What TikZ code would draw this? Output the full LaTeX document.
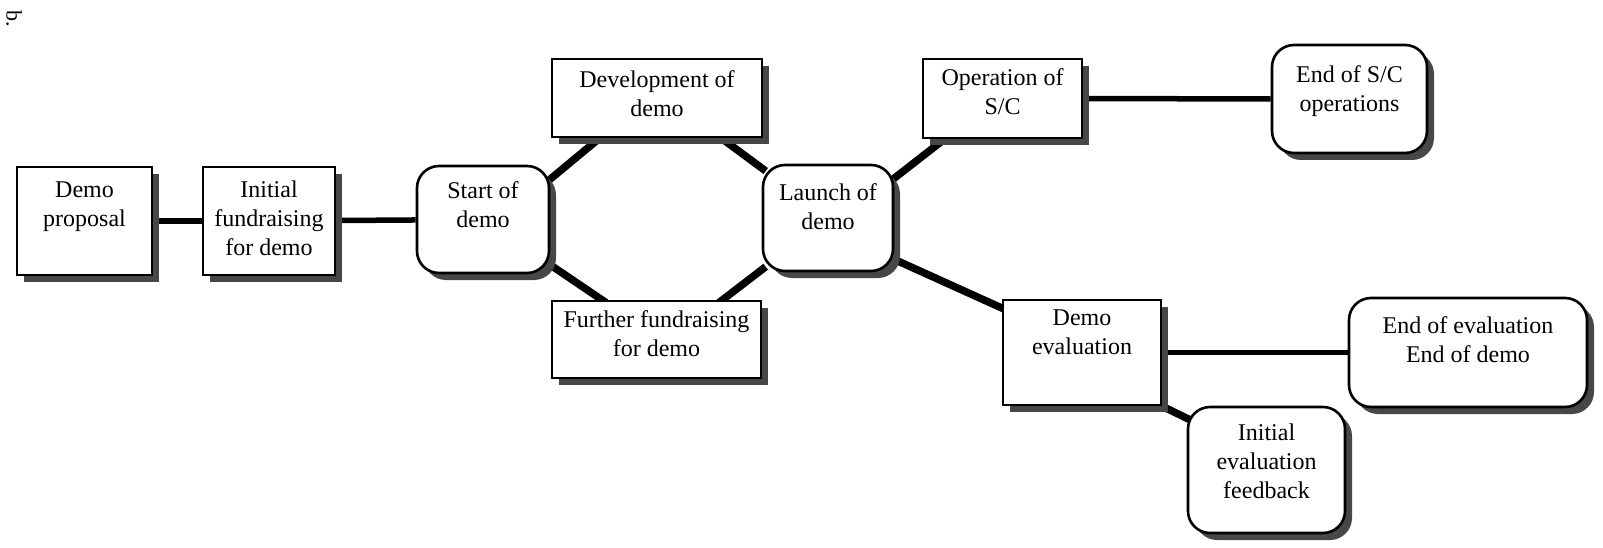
\documentclass[tikz,border=0pt]{standalone}
\usepackage{fontspec}
\setmainfont{Liberation Serif}
\usetikzlibrary{shadows,backgrounds}
\newcommand{\boxtxt}[4]{\parbox[c][#2][t]{#1}{\centering\rule{0pt}{#3}#4}}
\begin{document}
\begin{tikzpicture}[x=1pt,y=-1pt,
  font=\fontsize{24}{29}\selectfont,
  sq/.style={draw, line width=2.6pt, fill=white, inner sep=0pt,
    drop shadow={shadow xshift=7pt, shadow yshift=-7pt, fill=black!72, opacity=1}},
  rd/.style={sq, rounded corners=22pt},
  link/.style={line width=5.5pt},
  dlink/.style={line width=7.5pt, shorten <=-5pt, shorten >=-5pt}]
\useasboundingbox (0,0) rectangle (1603,548);

\node[rotate=-90, inner sep=0pt, font=\fontsize{22}{22}\selectfont] (lbl) at (14,19) {b.};

\node[sq] (dp)  at (84.5,221)   {\boxtxt{135pt}{108pt}{30.5pt}{Demo\\proposal}};
\node[sq] (inf) at (269,221)    {\boxtxt{132pt}{108pt}{30.5pt}{Initial\\fundraising\\for demo}};
\node[rd] (sod) at (483,219.5)  {\boxtxt{132pt}{107pt}{32.5pt}{Start of\\demo}};
\node[sq] (dev) at (657,98)     {\boxtxt{210pt}{78pt}{28.5pt}{Development of\\demo}};
\node[sq] (fur) at (656.5,339.5){\boxtxt{209pt}{77pt}{26.5pt}{Further fundraising\\for demo}};
\node[rd] (lod) at (828,218)    {\boxtxt{130pt}{106pt}{35.5pt}{Launch of\\demo}};
\node[sq] (op)  at (1002.5,98.5){\boxtxt{159pt}{79pt}{26.5pt}{Operation of\\S/C}};
\node[rd] (eos) at (1349.5,99)  {\boxtxt{155pt}{108pt}{37.5pt}{End of S/C\\operations}};
\node[sq] (de)  at (1082,352.5) {\boxtxt{158pt}{105pt}{25.5pt}{Demo\\evaluation}};
\node[rd] (eoe) at (1468,352.5) {\boxtxt{238pt}{109pt}{35.5pt}{End of evaluation\\End of demo}};
\node[rd] (ief) at (1266.5,470) {\boxtxt{157pt}{126pt}{33.5pt}{Initial\\evaluation\\feedback}};

\begin{scope}[on background layer]
\draw[link] (dp) -- (inf);
\draw[link] (inf) -- (sod);
\draw[dlink] (sod.31.8) -- (dev.215.8);
\draw[dlink] (sod.326.6) -- (fur.144.3);
\draw[dlink] (dev.328.2) -- (lod.143);
\draw[dlink] (lod.218.8) -- (fur.31.2);
\draw[dlink] (lod.31.5) -- (op.215.4);
\draw[dlink] (lod.328.4) -- (de.151.7);
\draw[link] (op) -- (eos);
\draw[link] (de) -- (eoe);
\draw[dlink] (de.south east) -- (ief.147.9);
\end{scope}
\end{tikzpicture}
\end{document}
